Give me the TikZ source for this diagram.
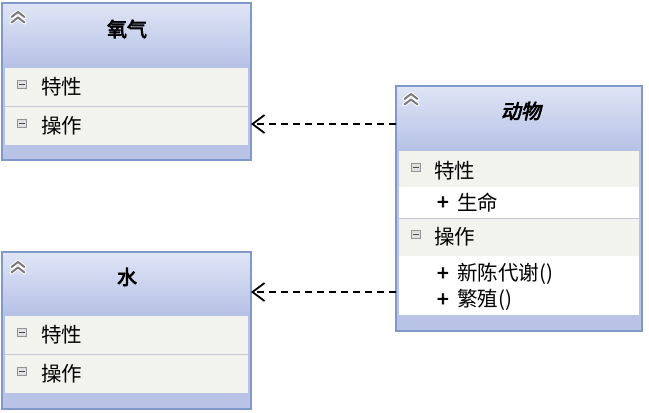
\documentclass[tikz,border=0pt]{standalone}
\usepackage{fontspec}
\setmainfont{Noto Sans CJK SC}[AutoFakeBold=3.5,AutoFakeSlant=0.2]
\usetikzlibrary{arrows.meta}
\definecolor{bord}{HTML}{7F99CB}
\definecolor{band}{HTML}{B8C3E5}
\definecolor{htop}{HTML}{E0E5F6}
\definecolor{hbot}{HTML}{B5C1E5}
\definecolor{rowbg}{HTML}{F3F3EE}
\definecolor{sepc}{HTML}{C5C8D2}
\definecolor{icong}{HTML}{7A7A7A}
\begin{document}
\begin{tikzpicture}[x=1pt,y=-1pt,
  cls/.style={rectangle, fill=band, draw=none, outer sep=0pt, inner sep=0pt, anchor=north west},
  bordline/.style={draw=bord, line width=1.2pt},
  hdr/.style={top color=htop, bottom color=hbot},
  rowfill/.style={fill=rowbg},
  whitefill/.style={fill=white},
  sepline/.style={draw=sepc, line width=0.9pt},
  title/.style={font=\fontsize{20}{20}\selectfont\bfseries, anchor=center, inner sep=0pt},
  ititle/.style={font=\fontsize{20}{20}\selectfont\bfseries\itshape, anchor=center, inner sep=0pt},
  rowtext/.style={font=\fontsize{20.5}{20.5}\selectfont, anchor=west, inner sep=0pt},
  plus/.style={font=\fontsize{20.5}{20.5}\selectfont\bfseries, anchor=west, inner sep=0pt},
  dep/.style={dash pattern=on 7pt off 5pt, line width=1.8pt, black,
              -{Straight Barb[length=12pt,width=18pt,line width=1.8pt]}},
  chev/.style={draw=icong, line width=2pt, line cap=round, line join=round},
  minus/.style={draw=icong!80, fill=black!12, line width=0.7pt}
]
\useasboundingbox[fill=white] (0,0) rectangle (649,413);

% ---------- helper pics ----------
\tikzset{
  chevron/.pic={
    \draw[white, line width=4pt, line cap=round, line join=round] (-6.5,3.5)--(0,-1.5)--(6.5,3.5) (-6.5,-2)--(0,-7)--(6.5,-2);
    \draw[chev] (-6.5,3.5)--(0,-1.5)--(6.5,3.5) (-6.5,-2)--(0,-7)--(6.5,-2);
  },
  minusicon/.pic={
    \draw[minus] (-4.5,-4) rectangle (4.5,4);
    \draw[black!70, line width=1.3pt] (-3,0.5)--(3,0.5);
  }
}

% ================= 氧气 =================
\node[cls, minimum width=249pt, minimum height=157pt] (oxy) at (2,3) {};
\shade[hdr] (2,3) rectangle (251,68);
\fill[rowfill] (5,68) rectangle (248,145);
\draw[sepline] (5,106.5) -- (248,106.5);
\draw[bordline] (oxy.north west) rectangle (oxy.south east);
\pic at (18,19) {chevron};
\node[title] (oxyt) at (127,29) {氧气};
\pic at (21.5,84) {minusicon};
\node[rowtext] (oxyattr) at (41,87) {特性};
\pic at (21.5,123) {minusicon};
\node[rowtext] (oxyops) at (41,126) {操作};

% ================= 水 =================
\node[cls, minimum width=249pt, minimum height=157pt] (water) at (2,252) {};
\shade[hdr] (2,252) rectangle (251,316);
\fill[rowfill] (5,316) rectangle (248,393);
\draw[sepline] (5,354.5) -- (248,354.5);
\draw[bordline] (water.north west) rectangle (water.south east);
\pic at (18,269) {chevron};
\node[title] (watert) at (127,277) {水};
\pic at (21.5,332) {minusicon};
\node[rowtext] (waterattr) at (41,335) {特性};
\pic at (21.5,371) {minusicon};
\node[rowtext] (waterops) at (41,374) {操作};

% ================= 动物 =================
\node[cls, minimum width=246pt, minimum height=245pt] (animal) at (396,86) {};
\shade[hdr] (396,86) rectangle (642,151);
\fill[rowfill] (399,151) rectangle (639,187);
\fill[whitefill] (399,187) rectangle (639,218);
\draw[sepline] (399,218) -- (639,218);
\fill[rowfill] (399,218.5) rectangle (639,256);
\fill[whitefill] (399,256) rectangle (639,315);
\draw[bordline] (animal.north west) rectangle (animal.south east);
\pic at (411,101) {chevron};
\node[ititle] (animalt) at (521,111) {动物};
\pic at (416,167) {minusicon};
\node[rowtext] (animalattr) at (434,171) {特性};
\node[plus] (p1) at (437,203) {+};
\node[rowtext] (life) at (457,203) {生命};
\pic at (416,234) {minusicon};
\node[rowtext] (animalops) at (434,237) {操作};
\node[plus] (p2) at (437,274) {+};
\node[rowtext] (meta) at (457,274) {新陈代谢()};
\node[plus] (p3) at (437,300) {+};
\node[rowtext] (breed) at (457,300) {繁殖()};

% ================= dependencies =================
\coordinate (d1) at (320,124);
\coordinate (d2) at (320,292);
\draw[dep] (animal.west |- d1) -- (oxy.east |- d1);
\draw[dep] (animal.west |- d2) -- (water.east |- d2);
\end{tikzpicture}
\end{document}
